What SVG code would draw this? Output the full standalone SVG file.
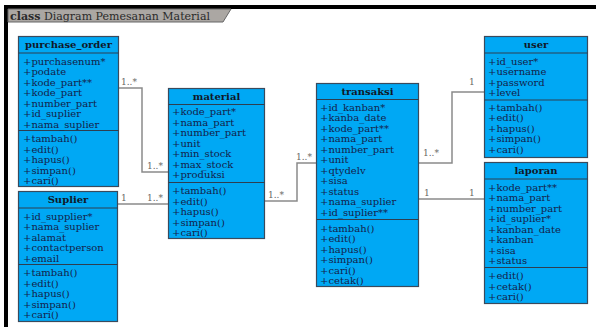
<svg xmlns="http://www.w3.org/2000/svg" width="596" height="327" viewBox="0 0 596 327">
<style>
.box{fill:#00a8f4;stroke:#3a4a5c;stroke-width:1.2}
.sep{stroke:#2e3e50;stroke-width:1.2}
.hd{font-family:"DejaVu Serif",serif;font-size:10px;font-weight:bold;fill:#101828;text-anchor:middle}
.at{font-family:"DejaVu Serif",serif;font-size:10px;fill:#14224a}
.cn{fill:none;stroke:#8a8a8a;stroke-width:1.5}
.lb{font-family:"DejaVu Serif",serif;font-size:9px;fill:#666}
.tt{font-family:"DejaVu Serif",serif;font-size:11px;fill:#2a2a2a}
</style>
<rect width="596" height="327" fill="#fff"/>
<path d="M6,327 V7 H596" fill="none" stroke="#000" stroke-width="4"/>
<polygon points="8,9 231,9 223,22 8,22" fill="#aba7a3" stroke="#666" stroke-width="1"/>
<text class="tt" x="10" y="20"><tspan font-weight="bold">class</tspan> Diagram Pemesanan Material</text>

<g id="connectors">
<polyline class="cn" points="119,88 142,88 142,172 168,172"/>
<polyline class="cn" points="118,204 168,204"/>
<polyline class="cn" points="265,201 297,201 297,163 316,163"/>
<polyline class="cn" points="419,163 452,163 452,92 484,92"/>
<polyline class="cn" points="419,199 484,199"/>
<text class="lb" x="121" y="85">1..*</text>
<text class="lb" x="147" y="169">1..*</text>
<text class="lb" x="121" y="201">1</text>
<text class="lb" x="147" y="201">1..*</text>
<text class="lb" x="268" y="198">1..*</text>
<text class="lb" x="296" y="160">1..*</text>
<text class="lb" x="423" y="156">1..*</text>
<text class="lb" x="469" y="85">1</text>
<text class="lb" x="424" y="196">1</text>
<text class="lb" x="469" y="196">1</text>
</g>

<g id="purchase_order">
<rect class="box" x="18.5" y="36.5" width="100" height="150"/>
<line class="sep" x1="18.5" y1="53" x2="118.5" y2="53"/>
<line class="sep" x1="18.5" y1="130.5" x2="118.5" y2="130.5"/>
<text class="hd" x="68.5" y="48">purchase_order</text>
<text class="at" x="23" y="64.5">+purchasenum*</text>
<text class="at" x="23" y="75">+podate</text>
<text class="at" x="23" y="85.5">+kode_part**</text>
<text class="at" x="23" y="96">+kode_part</text>
<text class="at" x="23" y="106.5">+number_part</text>
<text class="at" x="23" y="117">+id_suplier</text>
<text class="at" x="23" y="127.5">+nama_suplier</text>
<text class="at" x="23" y="142">+tambah()</text>
<text class="at" x="23" y="152.5">+edit()</text>
<text class="at" x="23" y="163">+hapus()</text>
<text class="at" x="23" y="173.5">+simpan()</text>
<text class="at" x="23" y="184">+cari()</text>
</g>

<g id="supplier">
<rect class="box" x="18.5" y="191.5" width="99" height="130"/>
<line class="sep" x1="18.5" y1="208" x2="117.5" y2="208"/>
<line class="sep" x1="18.5" y1="264.5" x2="117.5" y2="264.5"/>
<text class="hd" x="68" y="203">Suplier</text>
<text class="at" x="23" y="219.5">+id_supplier*</text>
<text class="at" x="23" y="230">+nama_suplier</text>
<text class="at" x="23" y="240.5">+alamat</text>
<text class="at" x="23" y="251">+contactperson</text>
<text class="at" x="23" y="261.5">+email</text>
<text class="at" x="23" y="276">+tambah()</text>
<text class="at" x="23" y="286.5">+edit()</text>
<text class="at" x="23" y="297">+hapus()</text>
<text class="at" x="23" y="307.5">+simpan()</text>
<text class="at" x="23" y="318">+cari()</text>
</g>

<g id="material">
<rect class="box" x="168.5" y="88.5" width="96" height="150"/>
<line class="sep" x1="168.5" y1="104.5" x2="264.5" y2="104.5"/>
<line class="sep" x1="168.5" y1="182.5" x2="264.5" y2="182.5"/>
<text class="hd" x="216.5" y="100">material</text>
<text class="at" x="172" y="115">+kode_part*</text>
<text class="at" x="172" y="125.5">+nama_part</text>
<text class="at" x="172" y="136">+number_part</text>
<text class="at" x="172" y="146.5">+unit</text>
<text class="at" x="172" y="157">+min_stock</text>
<text class="at" x="172" y="167.5">+max_stock</text>
<text class="at" x="172" y="178">+produksi</text>
<text class="at" x="172" y="194">+tambah()</text>
<text class="at" x="172" y="204.5">+edit()</text>
<text class="at" x="172" y="215">+hapus()</text>
<text class="at" x="172" y="225.5">+simpan()</text>
<text class="at" x="172" y="236">+cari()</text>
</g>

<g id="transaksi">
<rect class="box" x="316.5" y="83.5" width="102" height="203"/>
<line class="sep" x1="316.5" y1="99.5" x2="418.5" y2="99.5"/>
<line class="sep" x1="316.5" y1="219.5" x2="418.5" y2="219.5"/>
<text class="hd" x="367.5" y="95">transaksi</text>
<text class="at" x="320" y="110.5">+id_kanban*</text>
<text class="at" x="320" y="121">+kanba_date</text>
<text class="at" x="320" y="131.5">+kode_part**</text>
<text class="at" x="320" y="142">+nama_part</text>
<text class="at" x="320" y="152.5">+number_part</text>
<text class="at" x="320" y="163">+unit</text>
<text class="at" x="320" y="173.5">+qtydelv</text>
<text class="at" x="320" y="184">+sisa</text>
<text class="at" x="320" y="194.5">+status</text>
<text class="at" x="320" y="205">+nama_suplier</text>
<text class="at" x="320" y="215.5">+id_suplier**</text>
<text class="at" x="320" y="231.5">+tambah()</text>
<text class="at" x="320" y="242">+edit()</text>
<text class="at" x="320" y="252.5">+hapus()</text>
<text class="at" x="320" y="263">+simpan()</text>
<text class="at" x="320" y="273.5">+cari()</text>
<text class="at" x="320" y="284">+cetak()</text>
</g>

<g id="user">
<rect class="box" x="484.5" y="36.5" width="103" height="121"/>
<line class="sep" x1="484.5" y1="53" x2="587.5" y2="53"/>
<line class="sep" x1="484.5" y1="100" x2="587.5" y2="100"/>
<text class="hd" x="536" y="48">user</text>
<text class="at" x="488" y="64.5">+id_user*</text>
<text class="at" x="488" y="75">+username</text>
<text class="at" x="488" y="85.5">+password</text>
<text class="at" x="488" y="96">+level</text>
<text class="at" x="488" y="110.5">+tambah()</text>
<text class="at" x="488" y="121">+edit()</text>
<text class="at" x="488" y="131.5">+hapus()</text>
<text class="at" x="488" y="142">+simpan()</text>
<text class="at" x="488" y="152.5">+cari()</text>
</g>

<g id="laporan">
<rect class="box" x="484.5" y="162.5" width="103" height="141"/>
<line class="sep" x1="484.5" y1="179" x2="587.5" y2="179"/>
<line class="sep" x1="484.5" y1="267.5" x2="587.5" y2="267.5"/>
<text class="hd" x="536" y="174">laporan</text>
<text class="at" x="488" y="190.5">+kode_part**</text>
<text class="at" x="488" y="201">+nama_part</text>
<text class="at" x="488" y="211.5">+number_part</text>
<text class="at" x="488" y="222">+id_suplier*</text>
<text class="at" x="488" y="232.5">+kanban_date</text>
<text class="at" x="488" y="243">+kanban</text>
<text class="at" x="488" y="253.5">+sisa</text>
<text class="at" x="488" y="264">+status</text>
<text class="at" x="488" y="279">+edit()</text>
<text class="at" x="488" y="289.5">+cetak()</text>
<text class="at" x="488" y="300">+cari()</text>
</g>
</svg>
